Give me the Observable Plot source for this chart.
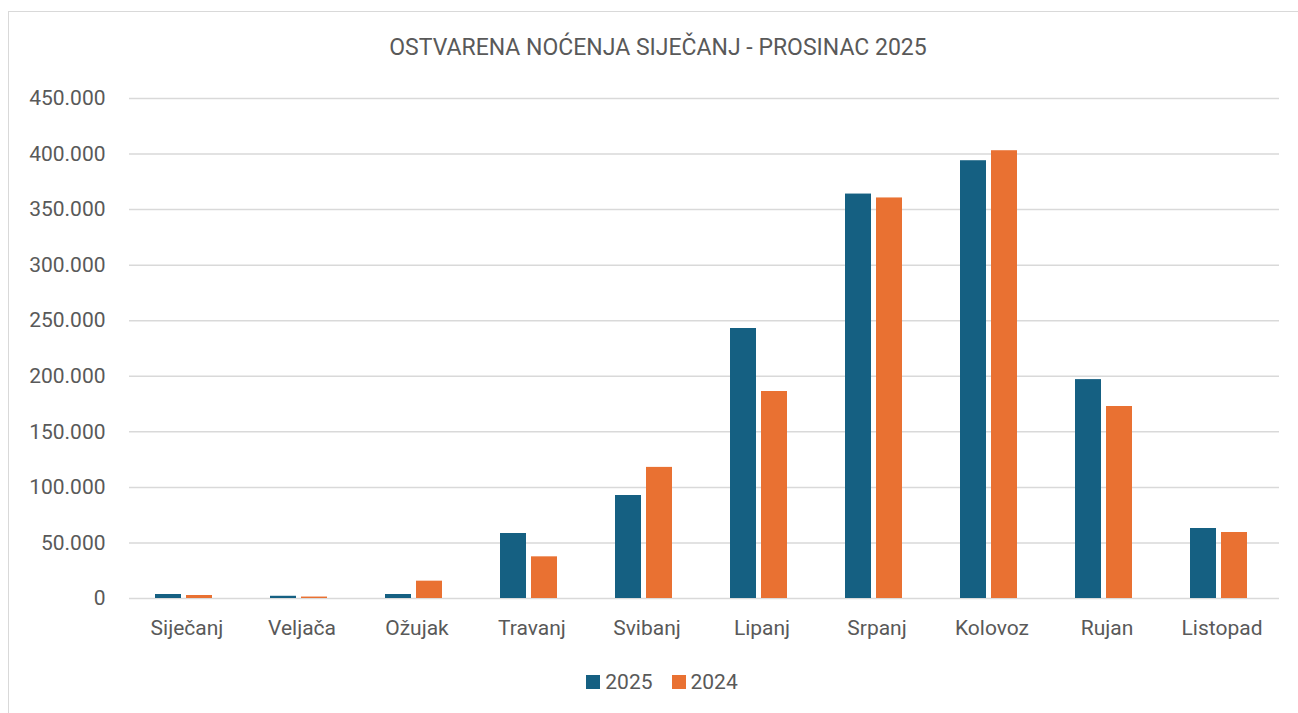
<!DOCTYPE html>
<html>
<head>
<meta charset="utf-8">
<script src="https://cdn.jsdelivr.net/npm/d3@7"></script>
<script src="https://cdn.jsdelivr.net/npm/@observablehq/plot@0.6"></script>
<style>
  html, body { margin: 0; padding: 0; background: #fff; overflow: hidden; }
  body { width: 1298px; height: 713px; position: relative; font-family: Roboto, "Liberation Sans", sans-serif; color: #595959; }
  #frame { position: absolute; left: 8px; top: 11px; width: 1400px; height: 800px; border: 1.5px solid #D9D9D9; box-sizing: border-box; }
  #title { position: absolute; left: 8px; top: 34px; width: 1300px; text-align: center; font-size: 23px; line-height: 28px; }
  #chart { position: absolute; left: 0; top: 80px; }
  #legend { position: absolute; left: 12px; top: 670px; width: 1300px; display: flex; justify-content: center; gap: 19px; font-size: 21px; line-height: 24px; }
  #legend .item { display: flex; align-items: center; gap: 5px; }
  #legend .sw { width: 14px; height: 14px; display: inline-block; }
</style>
</head>
<body>
<div id="frame"></div>
<div id="title">OSTVARENA NOĆENJA SIJEČANJ - PROSINAC 2025</div>
<div id="chart"></div>
<div id="legend"></div>
<script>
const months = ["Siječanj", "Veljača", "Ožujak", "Travanj", "Svibanj", "Lipanj", "Srpanj", "Kolovoz", "Rujan", "Listopad"];
const series = ["2025", "2024"];
const values2025 = [3600, 2000, 3600, 58500, 92700, 243000, 364000, 394000, 197000, 63000];
const values2024 = [2700, 1300, 15600, 37500, 118000, 186300, 360500, 403000, 172800, 59400];
const yTicks = [0, 50000, 100000, 150000, 200000, 250000, 300000, 350000, 400000, 450000];
const colors = ["#156082", "#E97132"];

const data = [];
months.forEach((m, i) => {
  data.push({month: m, year: "2025", value: values2025[i]});
  data.push({month: m, year: "2024", value: values2024[i]});
});

const fmt = d3.formatLocale({decimal: ",", thousands: ".", grouping: [3], currency: ["", ""]}).format(",");

const chart = Plot.plot({
  width: 1298,
  height: 570,
  marginLeft: 127,
  marginRight: 18,
  marginTop: 18,
  marginBottom: 52,
  style: {fontFamily: "Roboto, 'Liberation Sans', sans-serif", fontSize: "21px", color: "#595959", background: "transparent"},
  fx: {domain: months, padding: 0, label: null, tickSize: 0, tickPadding: 22, axis: "bottom"},
  x: {domain: series, paddingInner: 0.156, paddingOuter: 0.88, align: 0.45, axis: null},
  y: {domain: [0, 450000], ticks: yTicks, tickFormat: fmt, tickSize: 0, tickPadding: 24, label: null},
  color: {domain: series, range: colors},
  marks: [
    Plot.ruleY(yTicks, {stroke: "#D9D9D9", strokeWidth: 1.5}),
    Plot.barY(data, {fx: "month", x: "year", y: "value", fill: "year"})
  ]
});
document.getElementById("chart").appendChild(chart);

const legend = document.getElementById("legend");
series.forEach((s, i) => {
  const item = document.createElement("span");
  item.className = "item";
  const sw = document.createElement("span");
  sw.className = "sw";
  sw.style.background = colors[i];
  const t = document.createElement("span");
  t.textContent = s;
  item.appendChild(sw);
  item.appendChild(t);
  legend.appendChild(item);
});
</script>
</body>
</html>
